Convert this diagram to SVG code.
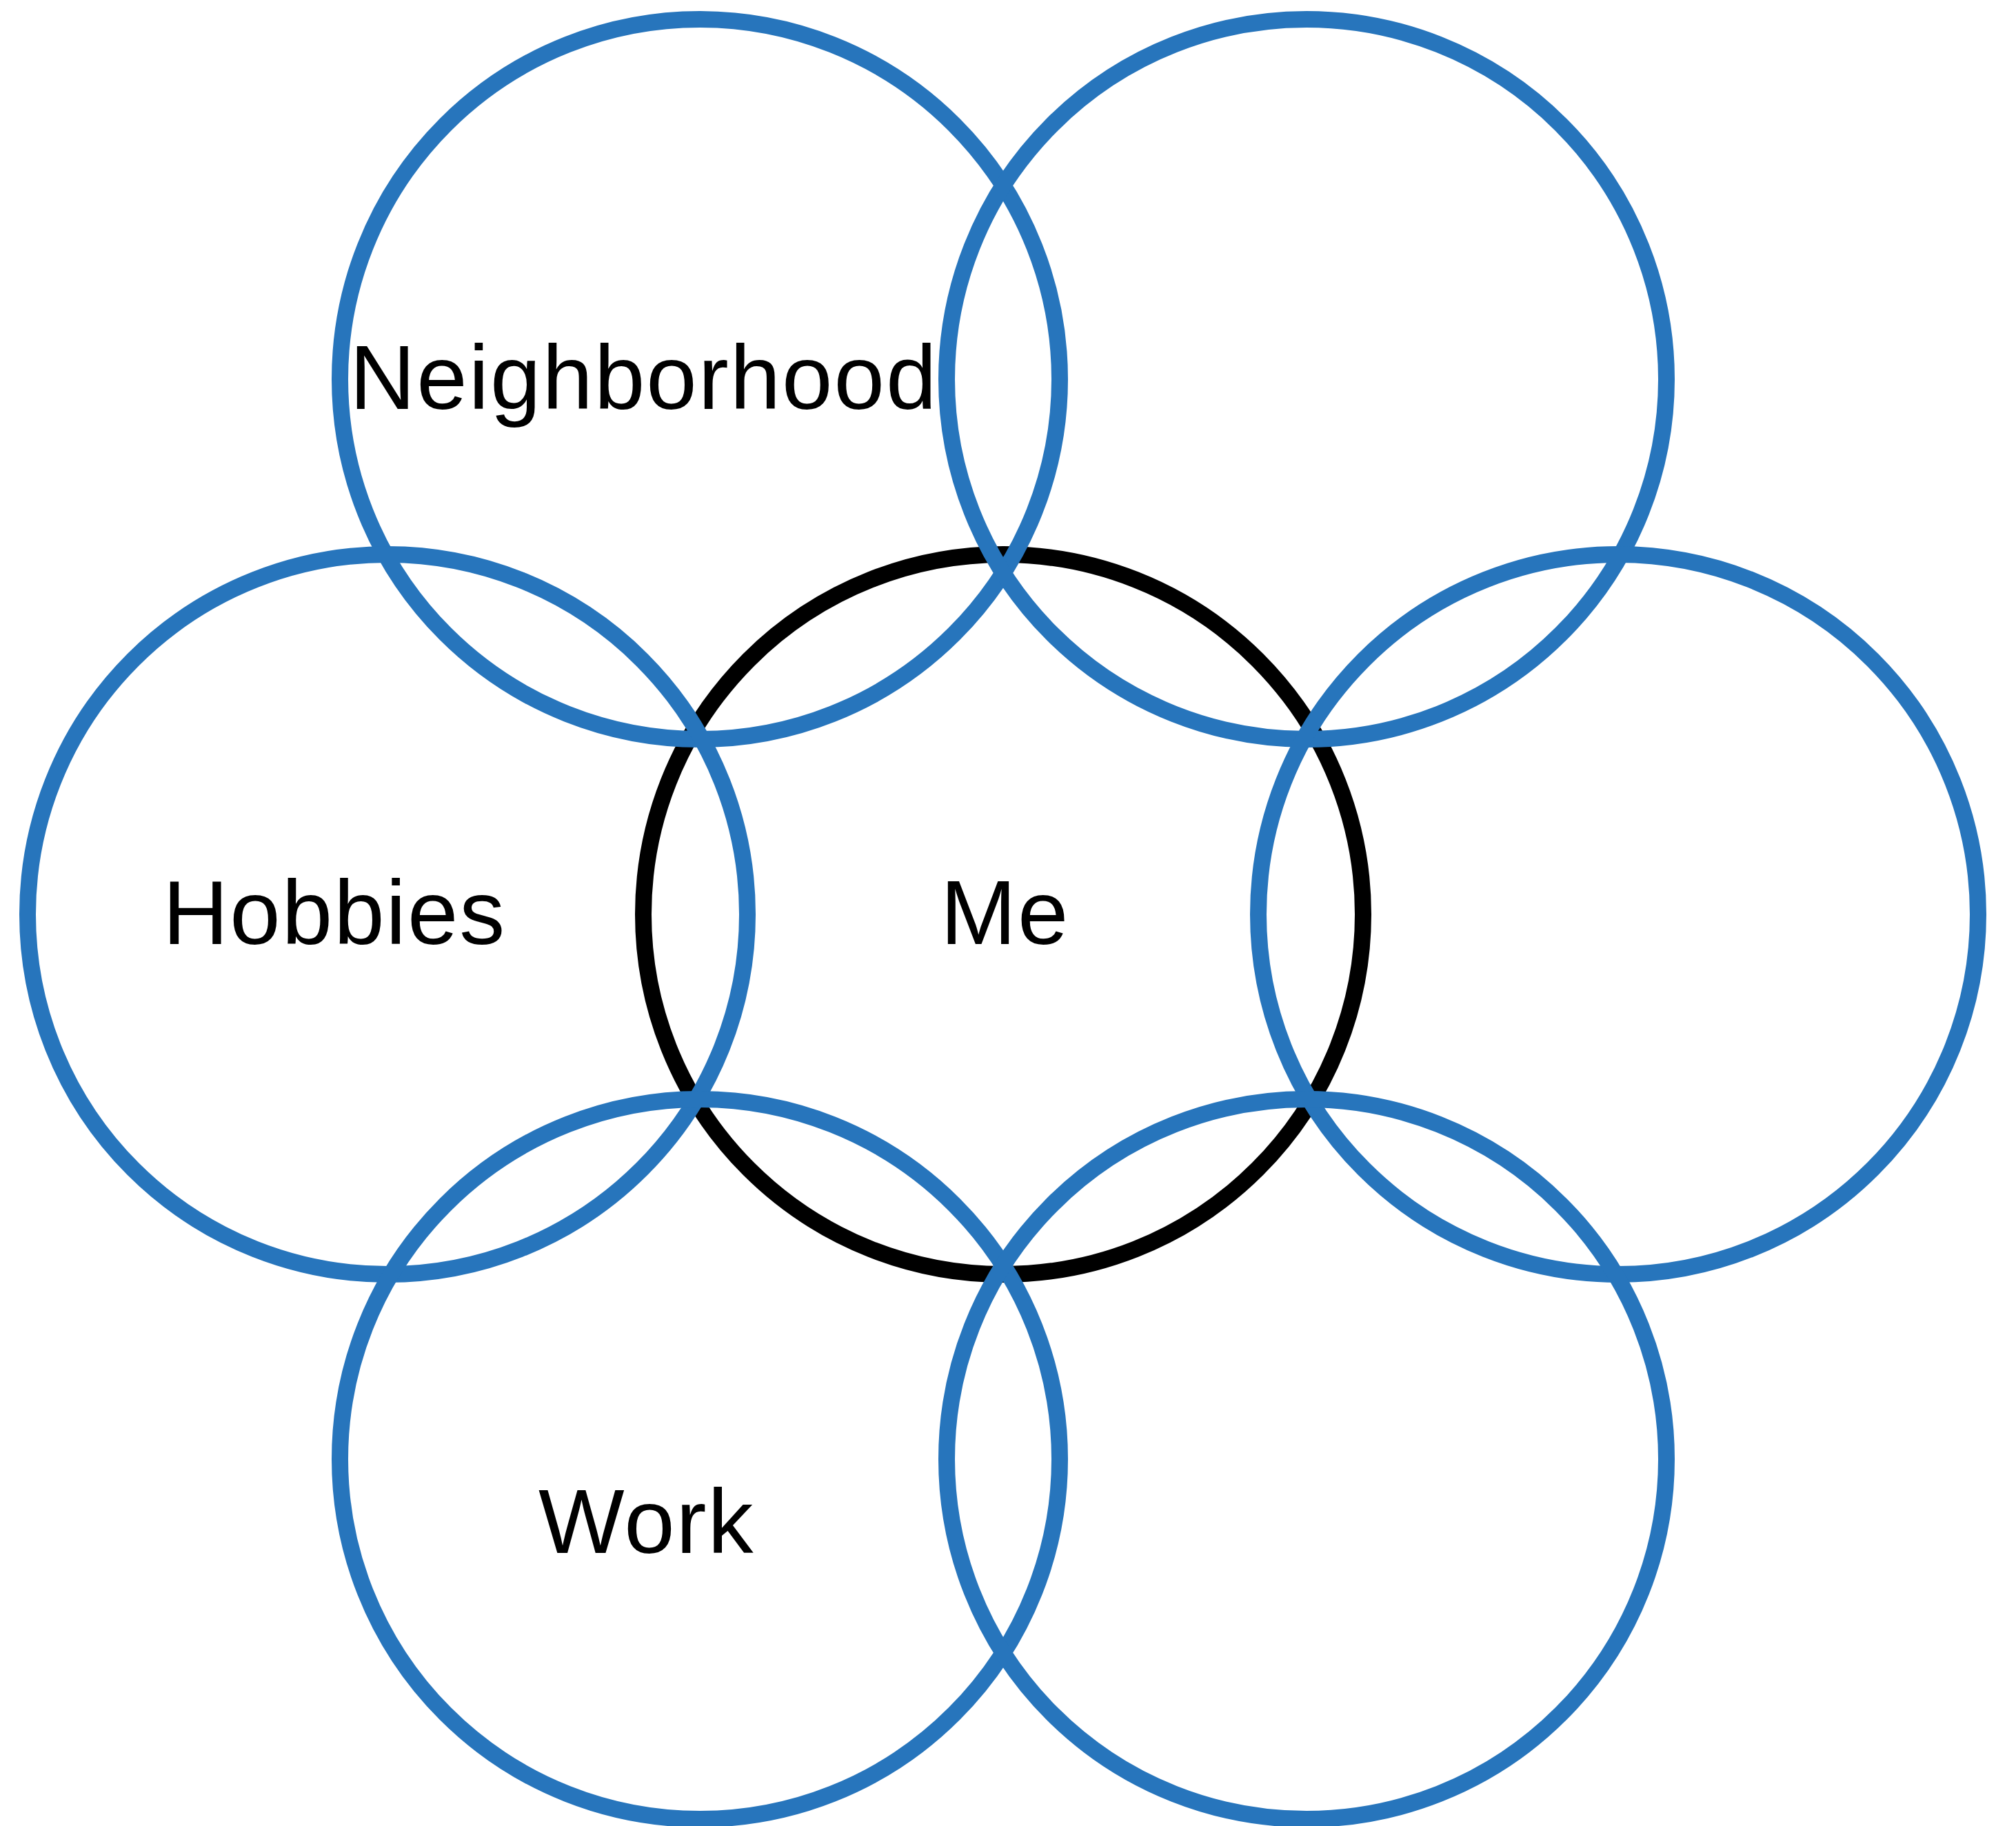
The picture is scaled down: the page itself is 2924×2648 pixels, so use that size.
<svg xmlns="http://www.w3.org/2000/svg" width="2924" height="2648" viewBox="0 0 2924 2648">
<style>
.c{fill:none;stroke-width:24}
.blue{stroke:#2775BC}
.black{stroke:#000000}
.t{font-family:"Liberation Sans",Arial,Helvetica,sans-serif;font-size:132px;fill:#000000;letter-spacing:2px}
</style>
<rect x="0" y="0" width="2924" height="2648" fill="#ffffff"/>
<g id="me"><circle class="c black" cx="1455" cy="1326" r="522"/></g>
<g id="neighborhood"><circle class="c blue" cx="1015" cy="550" r="522"/></g>
<g id="top-right"><circle class="c blue" cx="1895" cy="550" r="522"/></g>
<g id="hobbies"><circle class="c blue" cx="562" cy="1326" r="522"/></g>
<g id="right"><circle class="c blue" cx="2347" cy="1326" r="522"/></g>
<g id="work"><circle class="c blue" cx="1015" cy="2116" r="522"/></g>
<g id="bottom-right"><circle class="c blue" cx="1895" cy="2116" r="522"/></g>
<g id="labels">
<text class="t" x="507" y="593">Neighborhood</text>
<text class="t" x="236" y="1369">Hobbies</text>
<text class="t" x="1364" y="1369">Me</text>
<text class="t" x="781" y="2252">Work</text>
</g>
<g id="connectors"></g>
</svg>
